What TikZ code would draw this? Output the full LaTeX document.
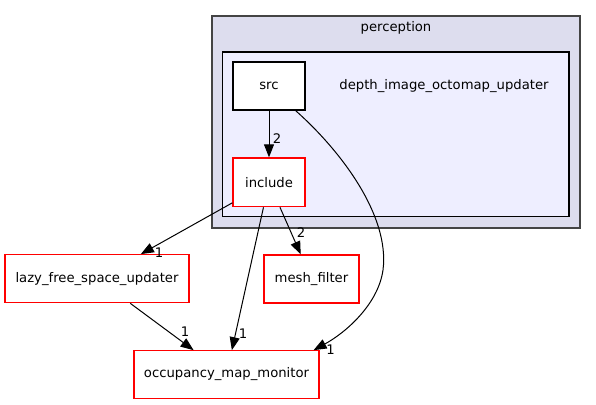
\documentclass[tikz,border=0pt]{standalone}
\usepackage{fontspec}
\setmainfont{DejaVu Sans}
\usetikzlibrary{arrows.meta}
\definecolor{outerfill}{HTML}{DDDDEE}
\definecolor{innerfill}{HTML}{EEEEFF}
\definecolor{outerline}{HTML}{444444}
\begin{document}
\begin{tikzpicture}[x=1pt,y=-1pt,
  font=\fontsize{13.2}{15.5}\selectfont,
  dirbox/.style={draw=red, fill=white, line width=1.2pt, minimum height=48pt, inner sep=0pt},
  plainbox/.style={draw=black, fill=white, line width=1.2pt, minimum height=48pt, inner sep=0pt},
  dep/.style={draw=black, line width=1pt, -{Triangle[length=13pt,width=10pt]}},
  cnt/.style={inner sep=0pt, font=\fontsize{13.2}{15.5}\selectfont}]
\useasboundingbox (0,0) rectangle (596,404);
\fill[white] (0,0) rectangle (596,404);
% clusters
\draw[fill=outerfill, draw=outerline, line width=1.6pt] (212,16) rectangle (580,228);
\draw[fill=innerfill, draw=black, line width=1.1pt] (222.7,52) rectangle (569,216.7);
\node[cnt] (perc) at (396,27.5) {perception};
\node[cnt] (dlab) at (444,86.5) {depth\_image\_octomap\_updater};
% nodes
\node[plainbox, minimum width=72pt] (src) at (269,86) {src};
\node[dirbox, minimum width=72pt, minimum height=48.7pt] (inc) at (269,182.3) {include};
\node[dirbox, minimum width=184pt] (lazy) at (97,278.7) {lazy\_free\_space\_updater};
\node[dirbox, minimum width=95pt] (mesh) at (311.5,279) {mesh\_filter};
\node[dirbox, minimum width=185pt, minimum height=47.5pt] (occ) at (226.5,374.5) {occupancy\_map\_monitor};
% edges
\draw[dep] (src) -- (inc);
\draw[dep] ([xshift=-10pt]src.south east) .. controls (340,150) and (390,215) .. (383,270)
   .. controls (378,305) and (345,333) .. ([xshift=-6pt]occ.north east);
\draw[dep] (inc) -- (lazy);
\draw[dep] (inc) -- (mesh);
\draw[dep] (inc) -- (occ);
\draw[dep] (lazy) -- (occ);
% labels
\node[cnt] (l1) at (277,139) {2};
\node[cnt] (l2) at (159,252.5) {1};
\node[cnt] (l3) at (301,233) {2};
\node[cnt] (l4) at (243,334) {1};
\node[cnt] (l5) at (185,331.5) {1};
\node[cnt] (l6) at (330.5,350) {1};
\end{tikzpicture}
\end{document}
